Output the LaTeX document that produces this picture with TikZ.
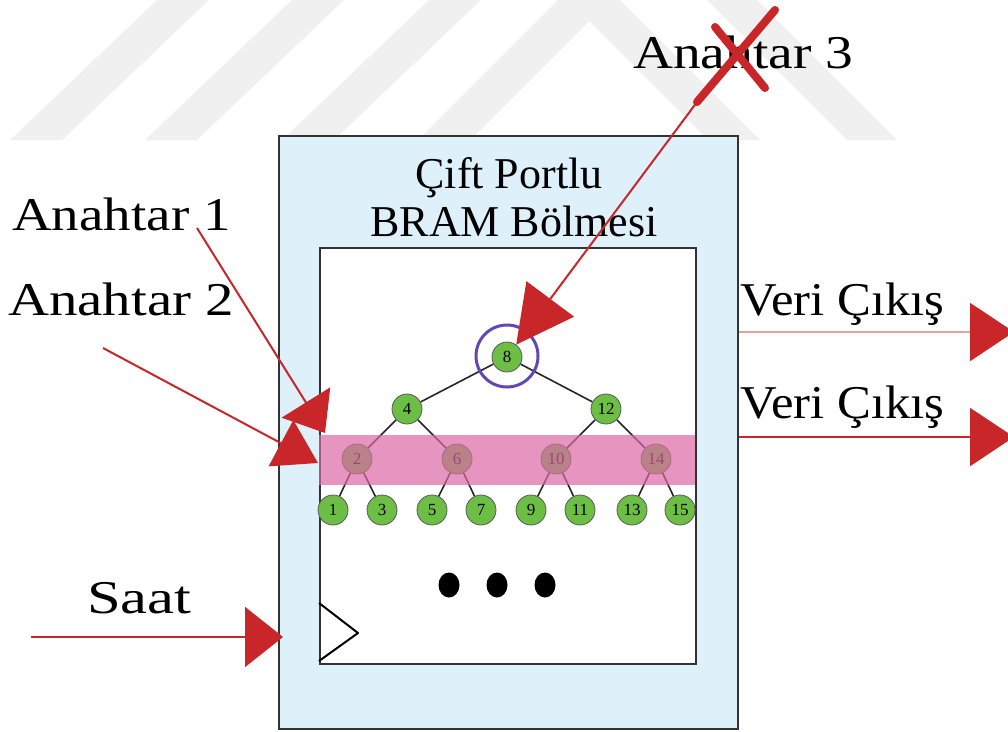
\documentclass[tikz,border=0pt]{standalone}
\usepackage{fontspec}
\usepackage{graphicx}
\setmainfont{Liberation Serif}
\usetikzlibrary{arrows.meta,shapes.geometric}
\definecolor{myred}{RGB}{200,38,40}
\definecolor{lightred}{RGB}{234,158,160}
\definecolor{boxblue}{RGB}{222,240,250}
\definecolor{nodegreen}{RGB}{108,190,68}
\definecolor{bandpink}{RGB}{218,105,165}
\definecolor{ringpurple}{RGB}{98,72,180}
\definecolor{wm}{RGB}{240,240,240}
\tikzset{
  lbl/.style={font=\fontsize{47}{50}\selectfont, inner sep=0pt, anchor=base west},
  ttl/.style={font=\fontsize{44}{48}\selectfont, inner sep=0pt, anchor=base},
  tnode/.style={circle, draw=black!65, line width=0.8pt, fill=nodegreen, minimum size=30pt, inner sep=0pt, font=\fontsize{17}{17}\selectfont},
  tedge/.style={draw=black!85, line width=1.6pt},
  redline/.style={draw=myred, line width=2pt},
  dotnode/.style={ellipse, fill=black, minimum width=21pt, minimum height=25pt, inner sep=0pt},
}
\begin{document}
\begin{tikzpicture}[x=1pt,y=-1pt]
\useasboundingbox (0,0) rectangle (1008,731);
% watermark
\fill[wm] (10,140) -- (62,140) -- (209,0) -- (157,0) -- cycle;
\fill[wm] (145,140) -- (197,140) -- (344,0) -- (292,0) -- cycle;
\fill[wm] (282,140) -- (334,140) -- (481,0) -- (429,0) -- cycle;
\fill[wm] (418,140) -- (589,-31) -- (760,140) -- (708,140) -- (589,21) -- (470,140) -- cycle;
\fill[wm] (707,0) -- (757,0) -- (897,140) -- (847,140) -- cycle;
% boxes
\node[draw=black!80, line width=1.5pt, fill=boxblue, minimum width=459pt, minimum height=593pt, inner sep=0pt, anchor=north west] (outer) at (278,135) {};
\node[draw=black!80, line width=1.5pt, fill=white, minimum width=376pt, minimum height=416pt, inner sep=0pt, anchor=north west] (inner) at (319,247) {};
\node[ttl] (title1) at (509,188) {Çift Portlu};
\node[ttl] (title2) at (514,236) {BRAM Bölmesi};
% tree
\node[tnode] (n8) at (507,357) {8};
\node[tnode] (n4) at (407,409) {4};
\node[tnode] (n12) at (606,409) {12};
\node[tnode] (n2) at (357,459) {2};
\node[tnode] (n6) at (457,459) {6};
\node[tnode] (n10) at (556,459) {10};
\node[tnode] (n14) at (656,459) {14};
\node[tnode] (n1) at (333,510) {1};
\node[tnode] (n3) at (382,510) {3};
\node[tnode] (n5) at (432,510) {5};
\node[tnode] (n7) at (481,510) {7};
\node[tnode] (n9) at (531,510) {9};
\node[tnode] (n11) at (580,510) {11};
\node[tnode] (n13) at (632,510) {13};
\node[tnode] (n15) at (680,510) {15};
\foreach \a/\b in {n8/n4,n8/n12,n4/n2,n4/n6,n12/n10,n12/n14,n2/n1,n2/n3,n6/n5,n6/n7,n10/n9,n10/n11,n14/n13,n14/n15}
  \draw[tedge] (\a) -- (\b);
% band overlay
\node[fill=bandpink, fill opacity=0.7, minimum width=376pt, minimum height=50pt, inner sep=0pt, anchor=north west] (band) at (319,435) {};
% ring
\node[circle, draw=ringpurple, line width=3pt, minimum size=62pt, inner sep=0pt] (ring) at (507,356) {};
% dots
\node[dotnode] (d1) at (449,585) {};
\node[dotnode] (d2) at (497,585) {};
\node[dotnode] (d3) at (545,585) {};
% clock
\draw[black, line width=2pt, line join=round] (319,603) -- (358,633) -- (319,661);
% labels
\node[lbl] (k1) at (12,230) {\scalebox{1.17}[1]{Anahtar 1}};
\node[lbl] (k2) at (8,315) {\scalebox{1.21}[1]{Anahtar 2}};
\node[lbl] (k3) at (633,68) {\scalebox{1.18}[1]{Anahtar 3}};
\node[lbl] (saat) at (87,613) {\scalebox{1.29}[1]{Saat}};
\node[lbl] (v1) at (740,315) {\scalebox{1.08}[1]{Veri Çıkış}};
\node[lbl] (v2) at (740,418) {\scalebox{1.08}[1]{Veri Çıkış}};
% connector endpoints
\coordinate (a1s) at (197,228);
\coordinate (a1e) at (325,433);
\coordinate (a2s) at (103,348);
\coordinate (a2e) at (318,463);
\coordinate (a3s) at (697,102);
\coordinate (ss) at (31,637);
\coordinate (se) at (283,637);
\coordinate (v1s) at (739,332);
\coordinate (v1e) at (1014,332);
\coordinate (v2s) at (739,437);
\coordinate (v2e) at (1014,437);
% arrows
\draw[redline, -{Triangle[length=36pt, width=57pt]}] (a1s) -- (a1e);
\draw[redline, -{Triangle[length=42pt, width=52pt]}] (a2s) -- (a2e);
\draw[redline, -{Triangle[length=57pt, width=59pt]}] (a3s) -- (n8);
\draw[myred, line width=8pt, line cap=round] (715,27) -- (765,88);
\draw[myred, line width=8pt, line cap=round] (775,10) -- (a3s);
\draw[redline, -{Triangle[length=38pt, width=60pt]}] (ss) -- (se);
\draw[draw=lightred, line width=2pt, -{Triangle[length=44pt, width=58pt, color=myred]}] (v1s) -- (v1e);
\draw[redline, -{Triangle[length=44pt, width=58pt]}] (v2s) -- (v2e);
\end{tikzpicture}
\end{document}
